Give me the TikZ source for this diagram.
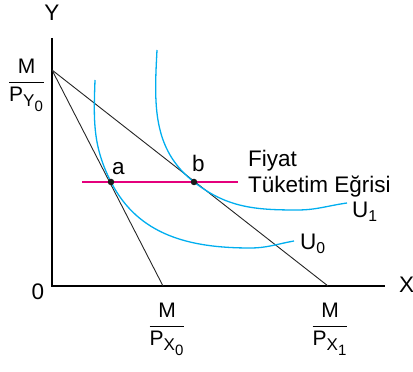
\documentclass[tikz,border=0pt]{standalone}
\usepackage{amsmath}
\usepackage{fontspec}
\setmainfont{Liberation Sans}
\usetikzlibrary{positioning, arrows.meta}
\definecolor{icurve}{RGB}{0, 174, 239}
\definecolor{pccurve}{RGB}{228, 0, 124}
\newcommand{\budgetfrac}[2]{$\dfrac{\text{M}}{\text{P}_{\mbox{\fontsize{17}{17}\selectfont #1}_{\mbox{\fontsize{15}{15}\selectfont #2}}}}$}

\begin{document}
\begin{tikzpicture}[x=1pt, y=1pt,
  axis/.style={line width=1.1pt, black},
  budget/.style={line width=0.9pt, black!85},
  indiff/.style={line width=1.3pt, icurve},
  pcc/.style={line width=1.8pt, pccurve},
  lbl/.style={font=\fontsize{22.5}{26}\selectfont, inner sep=0pt},
  frc/.style={font=\fontsize{21}{24}\selectfont, inner sep=0pt},
  dot/.style={circle, fill=black!90, inner sep=0pt, minimum size=6.5pt}
]
  \useasboundingbox (0,0) rectangle (413,372);
  % axes
  \coordinate (O) at (52,86);
  \coordinate (ytop) at (52,334);
  \coordinate (xend) at (385,86);
  \draw[axis] (ytop) -- (O) -- (xend);
  \node[lbl, anchor=base] (ylab) at (52,351) {Y};
  \node[lbl, anchor=base west] (xlab) at (399,79) {X};
  \node[lbl, anchor=base] (zero) at (38,72) {0};
  % budget lines
  \coordinate (m) at (52,302);
  \coordinate (x0) at (163,86);
  \coordinate (x1) at (328,86);
  \draw[budget] (m) -- (x0);
  \draw[budget] (m) -- (x1);
  \node[frc, anchor=base] (my) at (26.5,284.5) {\budgetfrac{Y}{0}};
  \node[frc, anchor=base] (mx0) at (167,40.5) {\budgetfrac{X}{0}};
  \node[frc, anchor=base] (mx1) at (330,40.5) {\budgetfrac{X}{1}};
  % indifference curves
  \draw[indiff] (95,292) to[out=-92, in=117] (111,190)
    to[out=-63, in=180] (250,124) to[out=0, in=190] (294,131);
  \draw[indiff] (157,322) to[out=-93, in=142] (194,190)
    to[out=-38, in=180] (297,162) to[out=0, in=188] (347,169);
  \node[lbl, anchor=base west] (u0) at (300,122) {U$_{\text{0}}$};
  \node[lbl, anchor=base west] (u1) at (352,154) {U$_{\text{1}}$};
  % price consumption curve
  \coordinate (pl) at (82,190);
  \coordinate (pr) at (238,190);
  \draw[pcc] (pl) -- (pr);
  \node[dot] (a) at (111,190) {};
  \node[dot] (b) at (194,190) {};
  \node[lbl, anchor=base west] (alab) at (112,197) {a};
  \node[lbl, anchor=base west] (blab) at (192,200) {b};
  \node[lbl, anchor=base west] (pce1) at (248,205) {Fiyat};
  \node[lbl, anchor=base west] (pce2) at ([yshift=-26pt]pce1.base west) {Tüketim Eğrisi};
\end{tikzpicture}
\end{document}
